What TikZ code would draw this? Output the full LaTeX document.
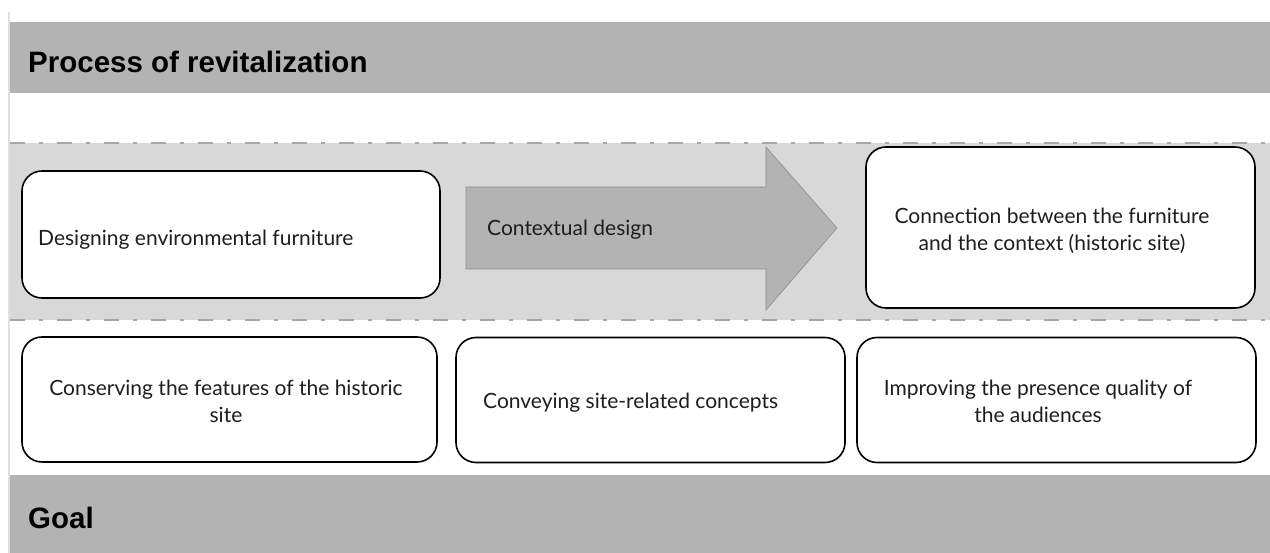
\documentclass[tikz,border=0pt]{standalone}
\usepackage{fontspec}
\setmainfont{Lato}
\newfontfamily\headfont{Liberation Sans}
\definecolor{band}{HTML}{B3B3B3}
\definecolor{zone}{HTML}{D9D8D9}
\definecolor{dashc}{HTML}{A6A6A6}
\definecolor{txt}{HTML}{1E1E1E}
\begin{document}
\begin{tikzpicture}[x=1pt,y=-1pt,
  hdr/.style={anchor=west,font=\headfont\bfseries\fontsize{29.5}{34}\selectfont,text=black,inner sep=0pt},
  rbox/.style={draw=black,line width=1.6pt,fill=white,rounded corners=20pt,inner sep=0pt},
  body/.style={font=\fontsize{21}{27}\selectfont,text=txt,align=center,inner sep=0pt}]
\useasboundingbox (0,0) rectangle (1270,553);
\fill[white] (0,0) rectangle (1270,553);
% left rule
\draw[line width=1.5pt,color=black!12] (9,12) -- (9,553);
% bands
\fill[band] (10,22) rectangle (1270,93);
\node[hdr] (proc) at (28,62) {Process of revitalization};
\fill[band] (10,475) rectangle (1270,553);
\node[hdr] (goal) at (28,518) {Goal};
% dashed zone
\fill[zone] (10,143) rectangle (1270,320);
\draw[dashc,line width=1.3pt,dash pattern=on 15pt off 14pt on 4pt off 14pt] (10,143) -- (1270,143);
\draw[dashc,line width=1.3pt,dash pattern=on 15pt off 14pt on 4pt off 14pt] (10,320) -- (1270,320);
% top boxes
\node[rbox,minimum width=418pt,minimum height=127pt] (b1) at (231,234.5) {};
\node[body,anchor=west] (t1) at (38,240) {Designing environmental furniture};
\draw[draw=black!45,fill=band,line width=0.6pt] (466,187) -- (766,187) -- (766,147) -- (837,228) -- (766,310) -- (766,269) -- (466,269) -- cycle;
\node[body,anchor=west] (ctx) at (487,230) {Contextual design};
\node[rbox,minimum width=389pt,minimum height=161pt] (b3) at (1060.5,227.5) {};
\node[body] (t3) at (1052,230.5) {Connection between the furniture\\and the context (historic site)};
% bottom boxes
\node[rbox,minimum width=415pt,minimum height=125pt] (ba) at (229.5,399.5) {};
\node[body] (ta) at (226,401) {Conserving the features of the historic\\site};
\node[rbox,minimum width=389pt,minimum height=125pt] (bb) at (650.5,400) {};
\node[body,anchor=west] (tb) at (483,403) {Conveying site-related concepts};
\node[rbox,minimum width=399pt,minimum height=125pt] (bc) at (1056.5,400) {};
\node[body] (tc) at (1038,401.5) {Improving the presence quality of\\the audiences};
\end{tikzpicture}
\end{document}
